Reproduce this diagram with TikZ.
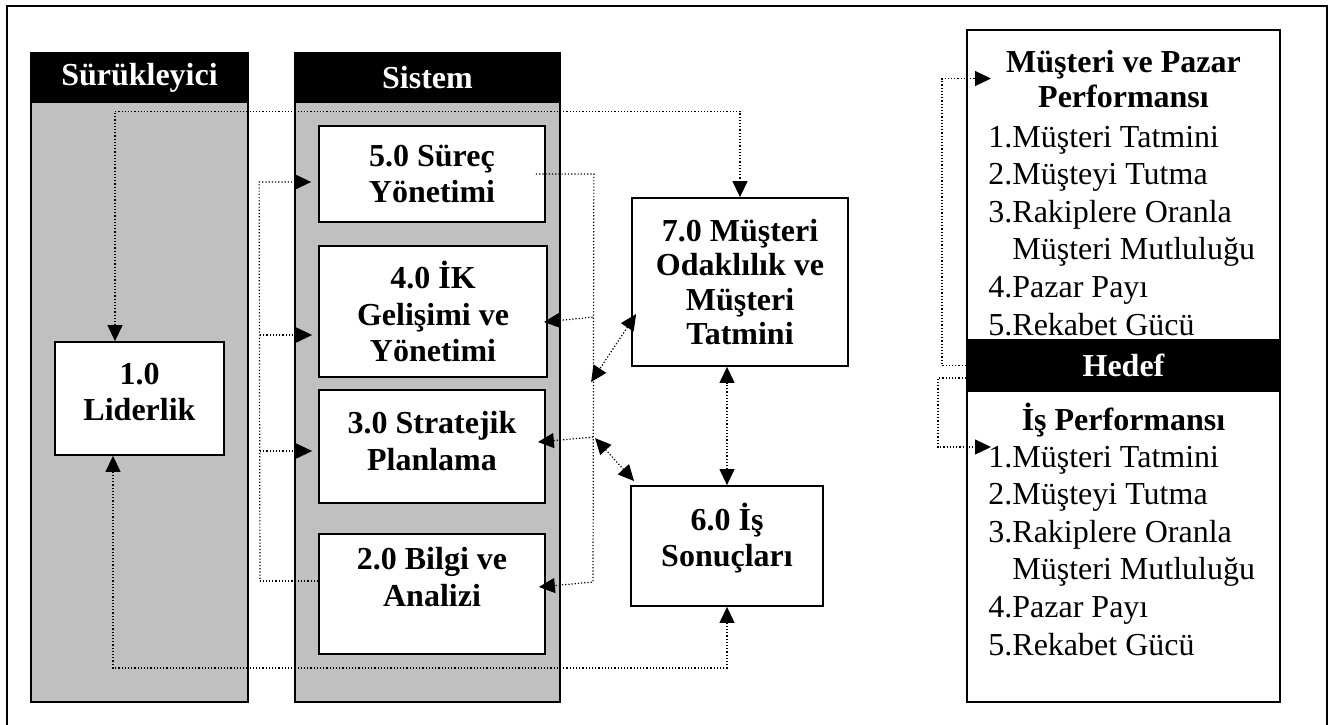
\documentclass[tikz,border=0pt]{standalone}
\usepackage{fontspec}
\setmainfont{Liberation Serif}
\usetikzlibrary{arrows.meta}
\definecolor{colgray}{RGB}{192,192,192}

\begin{document}
\begin{tikzpicture}[
    x=0.5pt, y=-0.5pt,
    >={Triangle[length=8pt,width=7.5pt]},
    box/.style={draw, line width=0.9pt, fill=white, align=center, inner sep=0pt, font=\fontsize{16}{18.2}\selectfont\bfseries},
    colhead/.style={draw, line width=1pt, fill=black, text=white, inner sep=0pt, font=\fontsize{16}{18.2}\selectfont\bfseries},
    colbody/.style={draw, line width=1pt, fill=colgray, inner sep=0pt},
    heading/.style={align=center, inner sep=0pt, font=\fontsize{16}{17.5}\selectfont\bfseries},
    items/.style={align=left, inner sep=0pt, font=\fontsize{16}{18.8}\selectfont},
    flow/.style={densely dotted, line width=0.6pt}
]
\useasboundingbox (0,0) rectangle (1328,724);
\draw[line width=1pt] (7,730) -- (7,6) -- (1327,6) -- (1327,730);

\node[colbody, minimum width=108.5pt, minimum height=300pt] (drv) at (139.5,402) {};
\node[colhead, minimum width=108.5pt, minimum height=24.5pt] (drvh) at (139.5,77.5) {Sürükleyici};
\node[colbody, minimum width=132.5pt, minimum height=300pt] (sys) at (427.5,402) {};
\node[colhead, minimum width=132.5pt, minimum height=24.5pt] (sysh) at (427.5,77.5) {Sistem};

\node[box, minimum width=84.5pt, minimum height=56.5pt, text depth=6.5pt] (lead) at (139.5,398.5) {1.0\\Liderlik};
\node[box, minimum width=113pt, minimum height=48pt] (proc) at (432,174) {5.0 Süreç\\Yönetimi};
\node[box, minimum width=114pt, minimum height=65.5pt] (hr) at (433,311.5) {4.0 İK\\Gelişimi ve\\Yönetimi};
\node[box, minimum width=113pt, minimum height=56.5pt, text depth=5.5pt] (plan) at (432,446.5) {3.0 Stratejik\\Planlama};
\node[box, minimum width=113pt, minimum height=60pt, text depth=17pt] (info) at (432,594) {2.0 Bilgi ve\\Analizi};
\node[box, minimum width=108pt, minimum height=84pt, font=\fontsize{16}{17.2}\selectfont\bfseries] (cust) at (740,282) {7.0 Müşteri\\Odaklılık ve\\Müşteri\\Tatmini};
\node[box, minimum width=96pt, minimum height=60pt, text depth=11pt] (res) at (727,546) {6.0 İş\\Sonuçları};

\node[draw, line width=0.9pt, minimum width=156.5pt, minimum height=336pt] (goal) at (1123.5,366) {};
\node[colhead, minimum width=156.5pt, minimum height=25.5pt] (hedef) at (1123.5,365.5) {Hedef};
\node[heading, anchor=base] (mkt) at (1123.5,107) {Müşteri ve Pazar\\Performansı};
\node[items, anchor=base west] (mktlist) at (988,335) {1.Müşteri Tatmini\\2.Müşteyi Tutma\\3.Rakiplere Oranla\\\phantom{3.}Müşteri Mutluluğu\\4.Pazar Payı\\5.Rekabet Gücü};
\node[heading, anchor=base] (biz) at (1123.5,430) {İş Performansı};
\node[items, anchor=base west] (bizlist) at (988,655) {1.Müşteri Tatmini\\2.Müşteyi Tutma\\3.Rakiplere Oranla\\\phantom{3.}Müşteri Mutluluğu\\4.Pazar Payı\\5.Rekabet Gücü};

\draw[flow,<->] ([xshift=-12.25pt]lead.north) -- ++(0,-230) -| (cust.north);
\draw[flow,<->] ([xshift=-13.25pt]lead.south) -- ++(0,212) -| (res.south);

\coordinate (lb) at (260,581);
\draw[flow] ([yshift=6.5pt]info.west) -- (lb);
\draw[flow,<-,shorten <=3.5pt] ([yshift=-4pt]proc.west) -- ++(-59,0) -- (lb);
\draw[flow,<-,shorten <=3pt] ([yshift=-11.75pt]hr.west) -- ++(-59,0);
\draw[flow,<-,shorten <=3pt] ([yshift=-2.25pt]plan.west) -- ++(-59,0);

\coordinate (rb) at (593,582);
\draw[flow,->] ([xshift=-5pt]proc.east) -- ++(58,0) -- (rb) -- ([xshift=-3.5pt,yshift=3.5pt]info.east);
\draw[flow,<-] ([xshift=-2pt,yshift=-5.25pt]hr.east) -- ++(50,-5);
\draw[flow,<-] ([xshift=-4pt,yshift=2.25pt]plan.east) -- ++(56,-5);

\draw[flow,<->] ([xshift=2.5pt,yshift=-16pt]cust.west) -- ++(-45,68);
\draw[flow,<->] ([xshift=2pt,yshift=2pt]res.north west) -- ++(-39,-43);
\draw[flow,<->] (res.north) -- (res.north |- cust.south);

\draw[flow,->] (hedef.west) -- ++(-24,0) |- ++(49,-287);
\draw[flow,->] ([yshift=-6.25pt]hedef.west) -- ++(-28,0) |- ++(53,69);

\end{tikzpicture}
\end{document}
